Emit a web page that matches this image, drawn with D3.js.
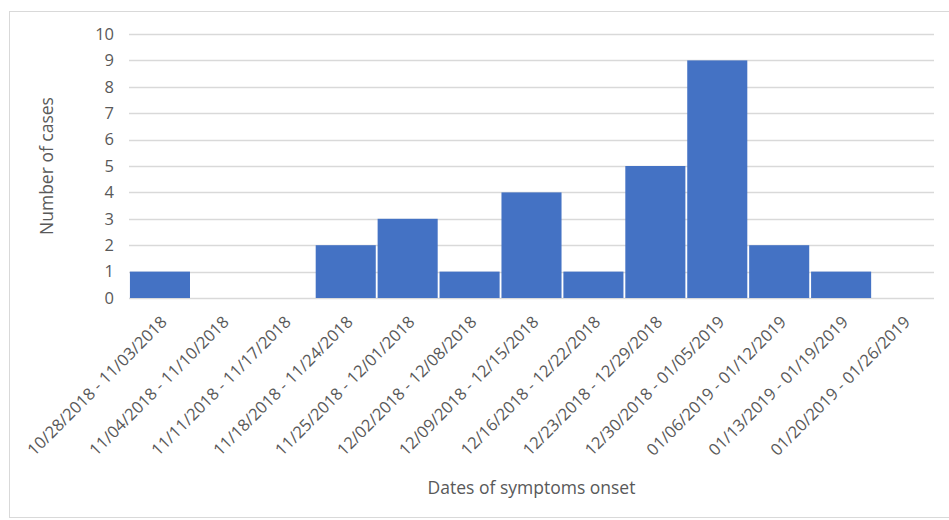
<!DOCTYPE html>
<html>
<head>
<meta charset="utf-8">
<script src="https://cdn.jsdelivr.net/npm/d3@7"></script>
<style>
  body { margin: 0; background: #fff; }
  text { font-family: "Open Sans", Lato, sans-serif; fill: #595959; }
</style>
</head>
<body>
<svg width="949" height="520"></svg>
<script>
// weeks of symptom onset and number of cases
const weeks = [
    "10/28/2018 - 11/03/2018", "11/04/2018 - 11/10/2018", "11/11/2018 - 11/17/2018",
    "11/18/2018 - 11/24/2018", "11/25/2018 - 12/01/2018", "12/02/2018 - 12/08/2018",
    "12/09/2018 - 12/15/2018", "12/16/2018 - 12/22/2018", "12/23/2018 - 12/29/2018",
    "12/30/2018 - 01/05/2019", "01/06/2019 - 01/12/2019", "01/13/2019 - 01/19/2019",
    "01/20/2019 - 01/26/2019"
];
const cases = [1, 0, 0, 2, 3, 1, 4, 1, 5, 9, 2, 1, 0];
const yTicks = [0, 1, 2, 3, 4, 5, 6, 7, 8, 9, 10];

const svg = d3.select("svg"),
      width = +svg.attr("width"),
      height = +svg.attr("height");

const margin = {left: 129, right: 15, top: 34, bottom: 222};

// chart frame
svg.append("rect")
    .attr("x", 9.5).attr("y", 11.5)
    .attr("width", 945).attr("height", 506)
    .attr("fill", "none")
    .attr("stroke", "#d9d9d9");

const x = d3.scaleBand()
    .domain(weeks)
    .range([margin.left, width - margin.right])
    .paddingInner(0.03)
    .paddingOuter(0.015);

const y = d3.scaleLinear()
    .domain([0, 10])
    .range([height - margin.bottom, margin.top]);

// gridlines
svg.append("g")
    .selectAll("line")
    .data(yTicks)
    .enter().append("line")
    .attr("x1", margin.left)
    .attr("x2", width - margin.right)
    .attr("y1", d => Math.round(y(d)) + 0.5)
    .attr("y2", d => Math.round(y(d)) + 0.5)
    .attr("stroke", "#d9d9d9")
    .attr("stroke-width", 1.3);

// y tick labels
svg.append("g")
    .selectAll("text")
    .data(yTicks)
    .enter().append("text")
    .attr("x", 114)
    .attr("y", d => y(d))
    .attr("dy", "0.35em")
    .attr("text-anchor", "end")
    .style("font-size", "16.5px")
    .text(d => d);

// bars
svg.append("g")
    .selectAll("rect")
    .data(cases)
    .enter().append("rect")
    .attr("x", (d, i) => x(weeks[i]))
    .attr("width", x.bandwidth())
    .attr("y", d => y(d))
    .attr("height", d => y(0) - y(d))
    .attr("fill", "#4472c4");

// x labels, rotated
svg.append("g")
    .selectAll("text")
    .data(weeks)
    .enter().append("text")
    .attr("transform", d => `translate(${x(d) + x.bandwidth() / 2 + 4},319) rotate(-45)`)
    .attr("dy", "0.35em")
    .attr("text-anchor", "end")
    .style("font-size", "16.5px")
    .text(d => d);

// axis titles
svg.append("text")
    .attr("x", (margin.left + width - margin.right) / 2)
    .attr("y", 494)
    .attr("text-anchor", "middle")
    .style("font-size", "17.5px")
    .text("Dates of symptoms onset");

svg.append("text")
    .attr("transform", "translate(53,166) rotate(-90)")
    .attr("text-anchor", "middle")
    .style("font-size", "17.5px")
    .text("Number of cases");
</script>
</body>
</html>
